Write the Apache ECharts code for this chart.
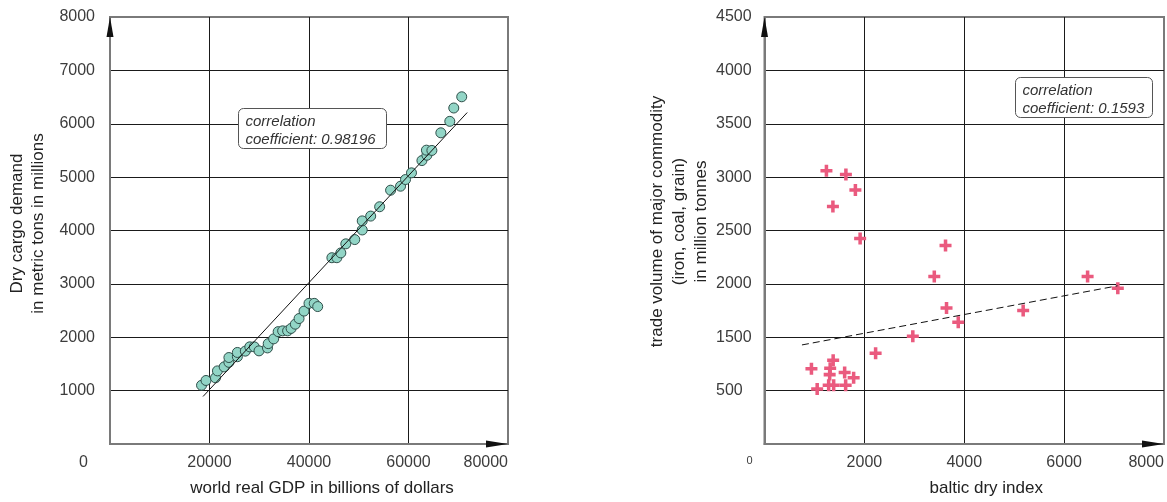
<!DOCTYPE html>
<html>
<head>
<meta charset="utf-8">
<script src="https://cdn.jsdelivr.net/npm/echarts@6/dist/echarts.min.js"></script>
<style>
  html, body { margin: 0; padding: 0; background: #fff; }
  #chart { width: 1167px; height: 502px; }
</style>
</head>
<body>
<div id="chart"></div>
<script>
// World real GDP (billions of dollars) against dry cargo demand (million metric tons)
const gdp = [18400, 19300, 21200, 21600, 22950, 23900, 23900, 25600, 25600, 27200,
             28100, 29000, 29950, 31650, 31800, 32900, 33800, 34700, 35700, 36400,
             37250, 38000, 39000, 40000, 41050, 41750, 44600, 45600, 46400, 47400,
             49200, 50700, 50700, 52400, 54200, 56400, 58400, 59400, 60600, 62700,
             63700, 63600, 64700, 66500, 68300, 69100, 70700];
const cargo = [1100, 1190, 1240, 1370, 1445, 1530, 1620, 1635, 1715, 1740,
               1820, 1820, 1745, 1800, 1880, 1970, 2105, 2120, 2120, 2165,
               2245, 2350, 2490, 2635, 2635, 2575, 3490, 3490, 3580, 3750,
               3830, 4010, 4180, 4270, 4445, 4755, 4830, 4955, 5080, 5310,
               5410, 5505, 5500, 5830, 6045, 6295, 6505];
const gdpFitX = [18700, 71800];
const gdpFitY = [890, 6210];

// Baltic Dry Index against trade volume of iron ore, coal and grain (million tonnes)
const bdi = [1240, 1630, 1820, 1370, 1915, 3625, 3400, 3645, 3880, 2970, 2225, 5180,
             6470, 7075, 940, 1055, 1375, 1315, 1305, 1285, 1385, 1605, 1625, 1785];
const tradeVolume = [3060, 3025, 2880, 2725, 2425, 2360, 2070, 1775, 1640, 1510, 1350, 1750,
                     2070, 1960, 1205, 1015, 1285, 1210, 1150, 1050, 1050, 1170, 1050, 1120];
const bdiFitX = [750, 7070];
const bdiFitY = [1428, 1982];

// Tick labels, listed from the lowest tick upward
const leftXTicks = ['0', '20000', '40000', '60000', '80000'];
const leftYTicks = ['0', '1000', '2000', '3000', '4000', '5000', '6000', '7000', '8000'];
const rightXTicks = ['0', '2000', '4000', '6000', '8000'];
const rightYTicks = ['', '500', '1500', '2000', '2500', '3000', '3500', '4000', '4500'];

const notes = ['correlation\ncoefficient: 0.98196', 'correlation\ncoefficient: 0.1593'];
const axisNames = {
  leftX: 'world real GDP in billions of dollars',
  leftY: 'Dry cargo demand\nin metric tons in millions',
  rightX: 'baltic dry index',
  rightY: 'trade volume of major commodity\n(iron, coal, grain)\nin million tonnes'
};

const FONT = '"Liberation Sans", Arial, sans-serif';
const labelColor = '#3c3c3c';
const gridLine = { show: true, showMinLine: false, showMaxLine: false, lineStyle: { color: '#1a1a1a', width: 1 } };
const axisLine = { show: true, lineStyle: { color: '#7a7a7a', width: 2 } };

const chart = echarts.init(document.getElementById('chart'), null, { renderer: 'canvas' });

function pairs(xs, ys) { return xs.map((x, i) => [x, ys[i]]); }

const plusPath = 'path://M6,0h5v6h6v5h-6v6h-5v-6h-6v-5h6z';

chart.setOption({
  animation: false,
  backgroundColor: '#fff',
  textStyle: { fontFamily: FONT },
  grid: [
    { left: 110, top: 17, width: 398, height: 428, show: true, borderColor: '#7a7a7a', borderWidth: 2, containLabel: false },
    { left: 764.5, top: 17, width: 400.5, height: 428, show: true, borderColor: '#7a7a7a', borderWidth: 2, containLabel: false }
  ],
  xAxis: [
    {
      type: 'value', gridIndex: 0, min: 0, max: 80000, interval: 20000,
      axisLine, axisTick: { show: false }, splitLine: gridLine,
      axisLabel: {
        fontSize: 16, color: labelColor, fontFamily: FONT, margin: 11, alignMaxLabel: 'right',
        formatter: v => { const i = Math.round(v / 20000); return i === 0 ? '{o|' + leftXTicks[0] + '}' : leftXTicks[i]; },
        rich: { o: { fontSize: 16, color: labelColor, fontFamily: FONT, padding: [0, 53, 0, 0] } }
      },
      name: axisNames.leftX, nameLocation: 'middle', nameGap: 36,
      nameTextStyle: { fontSize: 17, color: '#222', fontFamily: FONT, padding: [0, 0, 0, 26] }
    },
    {
      type: 'value', gridIndex: 1, min: 0, max: 8000, interval: 2000,
      axisLine, axisTick: { show: false }, splitLine: gridLine,
      axisLabel: {
        fontSize: 16, color: labelColor, fontFamily: FONT, margin: 11, alignMaxLabel: 'right',
        formatter: v => { const i = Math.round(v / 2000); return i === 0 ? '{o|' + rightXTicks[0] + '}' : rightXTicks[i]; },
        rich: { o: { fontSize: 11, color: labelColor, fontFamily: FONT, padding: [0, 30, 0, 0] } }
      },
      name: axisNames.rightX, nameLocation: 'middle', nameGap: 36,
      nameTextStyle: { fontSize: 17, color: '#222', fontFamily: FONT, padding: [0, 0, 0, 44] }
    }
  ],
  yAxis: [
    {
      type: 'value', gridIndex: 0, min: 0, max: 8000, interval: 1000,
      axisLine, axisTick: { show: false }, splitLine: gridLine,
      axisLabel: {
        fontSize: 16, color: labelColor, fontFamily: FONT, margin: 15, showMinLabel: false,
        formatter: v => leftYTicks[Math.round(v / 1000)]
      },
      name: axisNames.leftY, nameLocation: 'middle', nameGap: 61,
      nameTextStyle: { fontSize: 17, color: '#222', fontFamily: FONT, lineHeight: 21, padding: [0, 0, 0, 14] }
    },
    {
      type: 'value', gridIndex: 1, min: 500, max: 4500, interval: 500,
      axisLine, axisTick: { show: false }, splitLine: gridLine,
      axisLabel: {
        fontSize: 16, color: labelColor, fontFamily: FONT, margin: 48.5, align: 'left',
        formatter: v => rightYTicks[Math.round((v - 500) / 500)]
      },
      name: axisNames.rightY, nameLocation: 'middle', nameGap: 52,
      nameTextStyle: { fontSize: 17, color: '#222', fontFamily: FONT, lineHeight: 22, padding: [0, 0, 0, 18] }
    }
  ],
  series: [
    {
      type: 'scatter', xAxisIndex: 0, yAxisIndex: 0, symbol: 'circle', symbolSize: 10,
      itemStyle: { color: '#92d5c6', borderColor: '#2f4f4a', borderWidth: 1, opacity: 1 },
      data: pairs(gdp, cargo), z: 3
    },
    {
      type: 'line', xAxisIndex: 0, yAxisIndex: 0, symbol: 'none', silent: true,
      lineStyle: { color: '#111', width: 1 },
      data: pairs(gdpFitX, gdpFitY), z: 4
    },
    {
      type: 'scatter', xAxisIndex: 1, yAxisIndex: 1, symbol: plusPath, symbolSize: 12,
      itemStyle: { color: '#ea5a7e', opacity: 1 },
      data: pairs(bdi, tradeVolume), z: 3
    },
    {
      type: 'line', xAxisIndex: 1, yAxisIndex: 1, symbol: 'none', silent: true,
      lineStyle: { color: '#111', width: 1, type: [7, 4] },
      data: pairs(bdiFitX, bdiFitY), z: 4
    }
  ]
});

// Black arrow heads at the far end of each axis, placed from the axis scales
function axisArrows(gridIndex, xMin, xMax, yMin, yMax) {
  const top = chart.convertToPixel({ gridIndex }, [xMin, yMax]);
  const right = chart.convertToPixel({ gridIndex }, [xMax, yMin]);
  return [
    { type: 'polygon', z: 100, shape: { points: [[top[0], top[1]], [top[0] - 3.5, top[1] + 20], [top[0] + 3.5, top[1] + 20]] }, style: { fill: '#111' } },
    { type: 'polygon', z: 100, shape: { points: [[right[0], right[1]], [right[0] - 22, right[1] - 3.5], [right[0] - 22, right[1] + 3.5]] }, style: { fill: '#111' } }
  ];
}

function noteBox(left, top, width, height, text) {
  return {
    type: 'group', left, top, z: 100,
    children: [
      { type: 'rect', shape: { x: 0, y: 0, width, height, r: 5 }, style: { fill: '#fff', stroke: '#555', lineWidth: 1 } },
      { type: 'text', x: 7, y: 4, style: { text, fontSize: 15, fontStyle: 'italic', fontFamily: FONT, fill: '#333', lineHeight: 18 } }
    ]
  };
}

chart.setOption({
  graphic: [
    ...axisArrows(0, 0, 80000, 0, 8000),
    ...axisArrows(1, 0, 8000, 500, 4500),
    noteBox(238, 108, 148, 40, notes[0]),
    noteBox(1015, 77, 137, 40, notes[1])
  ]
});
</script>
</body>
</html>
